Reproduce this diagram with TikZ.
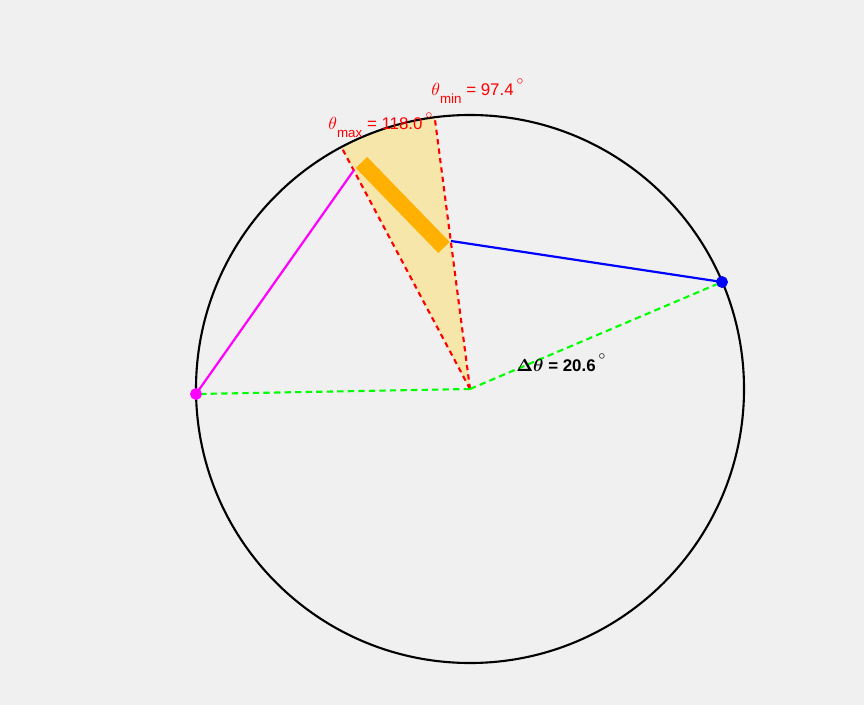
\documentclass[tikz,border=0pt]{standalone}
\usepackage{amsmath}
\usepackage{fontspec}
\setmainfont{Liberation Sans}
\usepackage{tikz}
\usetikzlibrary{calc}
\definecolor{figbg}{RGB}{240,240,240}
\definecolor{wedgefill}{RGB}{247,230,170}
\definecolor{rodorange}{RGB}{255,176,0}
\definecolor{pinmagenta}{RGB}{255,0,255}
\definecolor{pinblue}{RGB}{0,0,255}
\definecolor{spreadgreen}{RGB}{0,255,0}
\newcommand{\degmark}{\,\raisebox{6.5pt}{$\scriptstyle\circ$}}
\newcommand{\lowsub}[1]{\raisebox{-4.5pt}{\fontsize{7.6}{8}\selectfont #1}}

\begin{document}
\begin{tikzpicture}[
    x=0.02cm, y=-0.02cm,
    font=\fontsize{9.6}{11}\selectfont,
    rim/.style={draw=black, line width=1.2pt},
    limit/.style={draw=red, dash pattern=on 3pt off 2.4pt, line width=1.2pt},
    spread/.style={draw=spreadgreen, dash pattern=on 3.6pt off 2.4pt, line width=1.2pt},
    link/.style={line width=1.25pt},
    pin/.style={circle, draw, line width=1.2pt, inner sep=0pt, minimum size=5.5pt},
    lbl/.style={anchor=base west, inner sep=0pt}
]

% background and frame size
\fill[figbg] (0,0) rectangle (864,705);

% points
\coordinate (O) at (470,389);
\coordinate (tmin) at (434.7,117.3);
\coordinate (tmax) at (341.4,147.1);
\coordinate (rodA) at (354,170);
\coordinate (rodB) at (451,241);
\coordinate (barA) at (361.5,162.5);
\coordinate (barB) at (444,247.5);

% allowed sector
\fill[wedgefill] (O) -- (tmin) arc[start angle=-97.4, end angle=-118, radius=274] -- cycle;

% circle
\draw[rim] (O) circle[radius=274];

% limit lines
\draw[limit] (O) -- (tmin);
\draw[limit] (O) -- (tmax);

% rod
\draw[rodorange, line width=9pt] (barA) -- (barB);

\node[pin, draw=pinmagenta, fill=pinmagenta] (left) at (196,394) {};
\node[pin, draw=pinblue, fill=pinblue] (right) at (722,282) {};

\draw[link, pinmagenta] (left.center) -- (rodA);
\draw[link, pinblue] (rodB) -- (right.center);

\draw[spread] (O) -- (left);
\draw[spread] (O) -- (right);

% labels
\node[lbl, red] (maxlbl) at (328,130) {$\theta$\lowsub{max} = 118.0\degmark};
\node[lbl, red] (minlbl) at (431,96) {$\theta$\lowsub{min} = 97.4\degmark};
\node[lbl] (dlbl) at (516,371) {\bfseries$\boldsymbol{\Delta\theta}$ = 20.6\degmark};

\end{tikzpicture}
\end{document}
